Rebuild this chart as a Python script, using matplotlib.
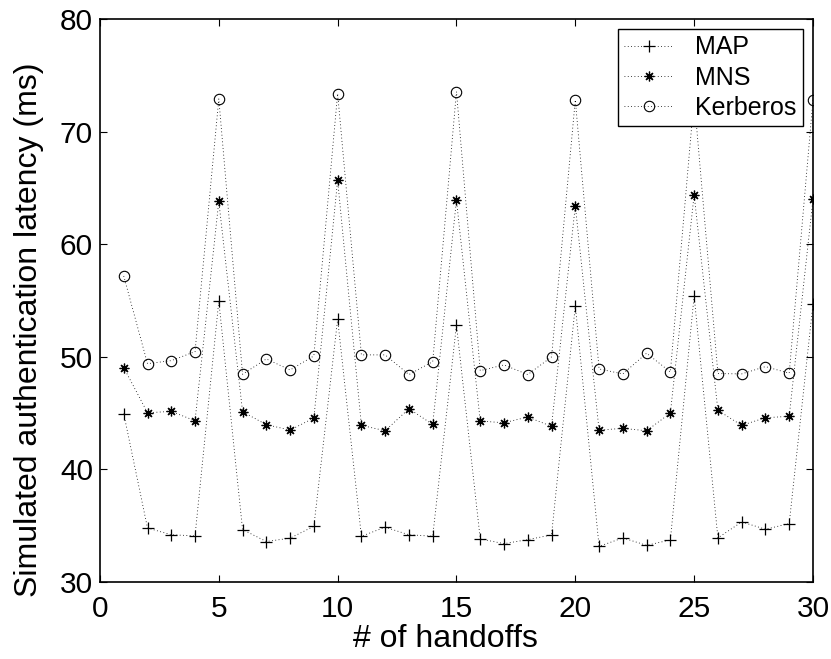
import numpy as np
import matplotlib
matplotlib.use('Agg')
import matplotlib.pyplot as plt

plt.rcParams['font.family'] = ['Liberation Sans', 'DejaVu Sans']

handoffs = np.arange(1, 31)

# authentication latency per handoff (ms)
map_lat = [44.96, 34.8, 34.2, 34.1, 54.96, 34.66, 33.6, 33.9, 34.95, 53.35,
           34.07, 34.87, 34.2, 34.07, 52.82, 33.83, 33.41, 33.77, 34.18, 54.54,
           33.17, 33.92, 33.26, 33.74, 55.43, 33.92, 35.34, 34.69, 35.19, 54.7]
mns_lat = [49.05, 45.04, 45.16, 44.33, 63.82, 45.13, 43.98, 43.5, 44.57, 65.72,
           43.92, 43.44, 45.4, 44.0, 63.94, 44.3, 44.15, 44.66, 43.83, 63.44,
           43.5, 43.65, 43.44, 45.01, 64.41, 45.25, 43.92, 44.6, 44.72, 64.0]
kerb_lat = [57.19, 49.4, 49.67, 50.47, 72.92, 48.46, 49.82, 48.84, 50.09, 73.39,
            50.18, 50.18, 48.43, 49.58, 73.57, 48.78, 49.29, 48.43, 50.0, 72.83,
            48.93, 48.49, 50.33, 48.66, 73.0, 48.52, 48.49, 49.14, 48.55, 72.83]

fig = plt.figure(figsize=(8.31, 6.59), dpi=100)
ax = fig.add_axes([0.1203, 0.1168, 0.858, 0.854])

ls = dict(color='k', lw=0.6, linestyle=(0, (1, 3)))
ax.plot(handoffs, map_lat, marker='+', ms=8, mew=0.9, label='MAP', **ls)
ax.plot(handoffs, mns_lat, marker=(8, 2, 0), ms=7, mew=0.9, label='MNS', **ls)
ax.plot(handoffs, kerb_lat, marker='o', ms=7.5, mew=0.8, mfc='none', mec='k',
        label='Kerberos', **ls)

ax.set_xlim(0, 30)
ax.set_ylim(30, 80)
ax.set_xticks([0, 5, 10, 15, 20, 25, 30])
ax.set_yticks([30, 40, 50, 60, 70, 80])
ax.tick_params(direction='in', length=5, width=0.8, top=True, right=True,
               labelsize=21.5)
ax.tick_params(axis='x', pad=9)
ax.tick_params(axis='y', pad=5)
for s in ax.spines.values():
    s.set_linewidth(1.2)

ax.set_xlabel('# of handoffs', fontsize=23)
ax.set_ylabel('Simulated authentication latency (ms)', fontsize=23)
ax.xaxis.set_label_coords(0.484, -0.074)
ax.yaxis.set_label_coords(-0.0785, 0.448)

leg = ax.legend(loc='upper right', fontsize=18, fancybox=False, framealpha=1,
                edgecolor='k', handlelength=2.0, handletextpad=0.85,
                borderpad=0.25, labelspacing=0.25, borderaxespad=0.4,
                numpoints=1)
leg.get_frame().set_linewidth(1.0)

fig.savefig('out.png', dpi=100)
